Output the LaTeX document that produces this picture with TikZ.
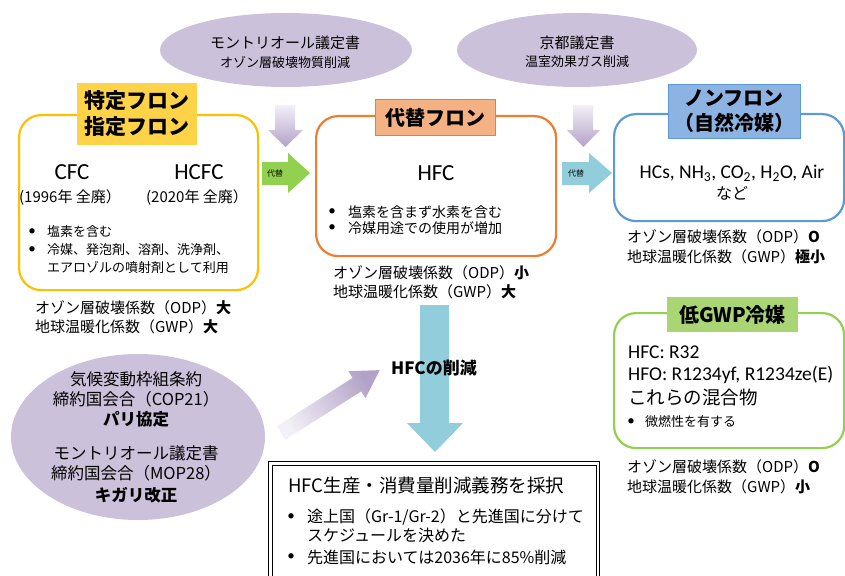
\documentclass[tikz,border=0pt]{standalone}
\usepackage{fontspec}
\setmainfont{Noto Sans CJK JP}
\newfontfamily\lat{Carlito}
\usetikzlibrary{shapes.geometric}
\newcommand\fsz[2]{\fontsize{#1}{#2}\selectfont}
\definecolor{ellip}{HTML}{CCC1DA}
\definecolor{yelB}{HTML}{FFC000}
\definecolor{yelF}{HTML}{FFD347}
\definecolor{orgB}{HTML}{ED7D31}
\definecolor{orgF}{HTML}{F4B183}
\definecolor{bluB}{HTML}{5B9BD5}
\definecolor{bluF}{HTML}{8DB3E2}
\definecolor{grnB}{HTML}{92D050}
\definecolor{grnF}{HTML}{A9D574}
\definecolor{arrG}{HTML}{92D050}
\definecolor{arrB}{HTML}{92CDDC}
\definecolor{purL}{HTML}{F3F0F7}
\definecolor{purD}{HTML}{B3A2C7}
\begin{document}
\begin{tikzpicture}[x=1pt,y=-1pt,
  panel/.style={line width=2.2pt, rounded corners=22pt, inner sep=0, anchor=north west},
  labbox/.style={inner sep=0, align=center, font=\bfseries\fsz{20}{25}},
  oval/.style={ellipse, fill=ellip, inner sep=0},
  tx/.style={inner sep=0, text=black},
  wt/.style={tx, anchor=west},
  bul/.style={tx, font=\lat\fsz{15}{17}},
  small/.style={font=\fsz{13}{16}},
  mid/.style={font=\fsz{14}{17}},
  norm/.style={font=\fsz{15}{18}},
  latbig/.style={tx, font=\lat\fsz{23}{28}},
  latmid/.style={font=\lat\fsz{19.5}{23}}
]
\useasboundingbox (0,0) rectangle (845,575);

% ---- top ellipses
\node[oval, minimum width=252, minimum height=74] (mont) at (286,50) {};
\node[tx, norm] (montA) at (285,43) {モントリオール議定書};
\node[tx, small] (montB) at (285,62) {オゾン層破壊物質削減};
\node[oval, minimum width=240, minimum height=74] (kyoto) at (577,50) {};
\node[tx, norm] (kyotoA) at (577,43) {京都議定書};
\node[tx, small] (kyotoB) at (577,62) {温室効果ガス削減};

% ---- left bottom ellipse
\node[oval, minimum width=254, minimum height=166] (cop) at (138,437) {};
\node[tx, font=\fsz{16.5}{19}] (c1) at (136,379) {気候変動枠組条約};
\node[tx, font=\fsz{16.5}{19}] (c2) at (136,399) {締約国会合（COP21）};
\node[tx, font=\bfseries\fsz{16.5}{19}] (c3) at (136,419) {パリ協定};
\node[tx, font=\fsz{16.5}{19}] (c4) at (136,453) {モントリオール議定書};
\node[tx, font=\fsz{16.5}{19}] (c5) at (136,473) {締約国会合（MOP28）};
\node[tx, font=\bfseries\fsz{16.5}{19}] (c6) at (136,495) {キガリ改正};

% ---- purple down arrows
\shade[top color=purL, bottom color=purD] (275,105) -- (295,105) -- (295,130) -- (303,130) -- (285.5,147) -- (268,130) -- (275,130) -- cycle;
\shade[top color=purL, bottom color=purD] (573,105) -- (593,105) -- (593,130) -- (600,130) -- (583.5,147) -- (567,130) -- (573,130) -- cycle;

% ---- small substitution arrows
\fill[arrG] (262,162) -- (288,162) -- (288,153) -- (310,173) -- (288,193) -- (288,185) -- (262,185) -- cycle;
\node[tx, font=\fsz{8}{10}] (sub1) at (275,173.5) {代替};
\fill[arrB] (562,162) -- (589,162) -- (589,153) -- (612,173) -- (589,193) -- (589,185) -- (562,185) -- cycle;
\node[tx, font=\fsz{8}{10}] (sub2) at (576,173.5) {代替};

% ---- diagonal arrow
\begin{scope}[shift={(281,433)}, rotate=32.5]
\shade[top color=purD, bottom color=purL, shading angle=-57.5]
  (0,-8) -- (90,-8) -- (90,-16) -- (117,0) -- (90,16) -- (90,8) -- (0,8) -- cycle;
\end{scope}

% ---- big blue arrow
\fill[arrB] (420,305) -- (449,305) -- (449,423) -- (463,423) -- (435,452) -- (407,423) -- (420,423) -- cycle;
\node[tx, font=\bfseries\fsz{17}{20}] (hfcred) at (434,368) {HFCの削減};

% ---- yellow panel
\node[panel, draw=yelB, minimum width=239, minimum height=175] (tok) at (18,114) {};
\node[labbox, fill=yelF, minimum width=120, minimum height=62, font=\bfseries\fsz{21}{26}] (toklab) at (137,114) {特定フロン\\指定フロン};
\node[latbig] (cfc) at (72,172) {CFC};
\node[latbig] (hcfc) at (199,172) {HCFC};
\node[tx, font=\fsz{15}{18}] (cfcy) at (70,198) {(1996年 全廃）};
\node[tx, font=\fsz{15}{18}] (hcfcy) at (197,198) {(2020年 全廃）};
\node[bul] (tb1) at (32,232) {•};
\node[wt, small] (tt1) at (47,232) {塩素を含む};
\node[bul] (tb2) at (32,250) {•};
\node[wt, small] (tt2) at (47,250) {冷媒、発泡剤、溶剤、洗浄剤、};
\node[wt, small] (tt3) at (47,268) {エアロゾルの噴射剤として利用};
\node[wt, norm] (tp1) at (35,308) {オゾン層破壊係数（ODP）\textbf{大}};
\node[wt, norm] (tp2) at (35,327) {地球温暖化係数（GWP）\textbf{大}};

% ---- orange panel
\node[panel, draw=orgB, minimum width=240, minimum height=140] (dai) at (315,115) {};
\node[labbox, fill=orgF, draw=orgB, line width=1pt, minimum width=120, minimum height=35] (dailab) at (435,117.5) {代替フロン};
\node[latbig] (hfc) at (436,173) {HFC};
\node[bul] (db1) at (332,212) {•};
\node[wt, mid] (dt1) at (348,212) {塩素を含まず水素を含む};
\node[bul] (db2) at (332,228) {•};
\node[wt, mid] (dt2) at (348,228) {冷媒用途での使用が増加};
\node[wt, norm] (dp1) at (333,273) {オゾン層破壊係数（ODP）\textbf{小}};
\node[wt, norm] (dp2) at (333,292) {地球温暖化係数（GWP）\textbf{大}};

% ---- blue panel
\node[panel, draw=bluB, minimum width=230, minimum height=107] (non) at (613,113) {};
\node[labbox, fill=bluF, draw=bluB, line width=1pt, minimum width=132, minimum height=53] (nonlab) at (734,111.5) {ノンフロン\\（自然冷媒）};
\node[tx, latmid] (nat) at (732,173) {HCs, NH\textsubscript{3}, CO\textsubscript{2}, H\textsubscript{2}O, Air};
\node[tx, font=\fsz{16}{19}] (nado) at (732,193) {など};
\node[wt, norm] (np1) at (627,237) {オゾン層破壊係数（ODP）\textbf{O}};
\node[wt, norm] (np2) at (627,257) {地球温暖化係数（GWP）\textbf{極小}};

% ---- green panel
\node[panel, draw=grnB, minimum width=230, minimum height=135] (low) at (613,312) {};
\node[labbox, fill=grnF, minimum width=131, minimum height=35] (lowlab) at (732.5,314.5) {低GWP冷媒};
\node[wt, latmid] (l1) at (628,352) {HFC: R32};
\node[wt, latmid] (l2) at (628,375) {HFO: R1234yf, R1234ze(E)};
\node[wt, font=\fsz{18.5}{21}] (l3) at (628,397) {これらの混合物};
\node[bul] (lb4) at (631,422) {•};
\node[wt, small] (l4) at (645,422) {微燃性を有する};
\node[wt, norm] (lp1) at (627,467) {オゾン層破壊係数（ODP）\textbf{O}};
\node[wt, norm] (lp2) at (627,487) {地球温暖化係数（GWP）\textbf{小}};

% ---- bottom box
\node[draw, line width=1.3pt, inner sep=0, anchor=north west, minimum width=331, minimum height=130] (kig) at (268,461) {};
\node[draw, line width=0.6pt, inner sep=0, anchor=north west, minimum width=324, minimum height=126] (kigin) at (272,465) {};
\node[wt, font=\fsz{18.5}{21}] (k1) at (288,485) {HFC生産・消費量削減義務を採択};
\node[bul] (kb2) at (291,517) {•};
\node[wt, font=\fsz{16}{19}] (k2) at (307,517) {途上国（Gr-1/Gr-2）と先進国に分けて};
\node[wt, font=\fsz{16}{19}] (k3) at (307,535) {スケジュールを決めた};
\node[bul] (kb4) at (291,557) {•};
\node[wt, font=\fsz{16}{19}] (k4) at (307,557) {先進国においては2036年に85\%削減};
\end{tikzpicture}
\end{document}
